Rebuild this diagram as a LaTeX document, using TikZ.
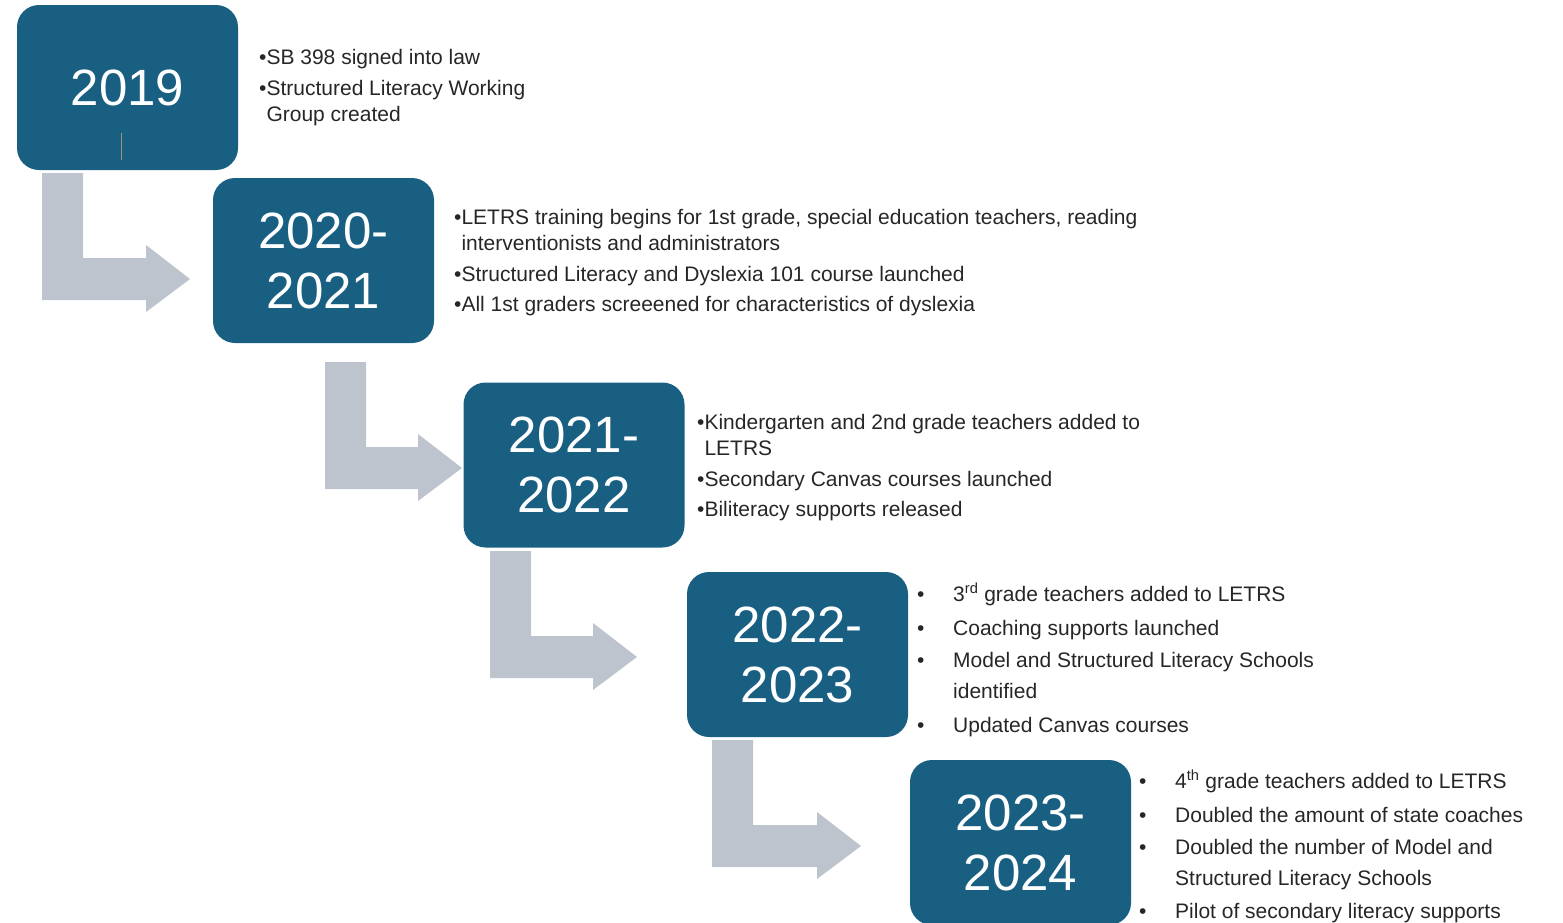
\documentclass[tikz,border=0pt]{standalone}
\usepackage{fontspec}
\setmainfont{Liberation Sans}
\usetikzlibrary{positioning}

\definecolor{boxblue}{HTML}{185F82}
\definecolor{arrowgray}{HTML}{BDC4CD}
\definecolor{tickbrown}{HTML}{A3927F}

\newcommand{\bul}{\makebox[36pt][l]{\textbullet}}
\newcommand{\cont}{\hspace*{36pt}}

\begin{document}
\begin{tikzpicture}[x=1pt,y=-1pt,
  year/.style={rectangle,rounded corners=22pt,fill=boxblue,text=white,
    minimum width=221pt,minimum height=165pt,align=center,inner sep=0pt,
    font=\fontsize{51}{60}\selectfont},
  notes/.style={anchor=base west,align=left,inner sep=0pt,text=black!85,
    font=\fontsize{21}{26}\selectfont},
  widenotes/.style={notes,font=\fontsize{21}{31}\selectfont},
  pics/bentarrow/.style={code={
    \fill[arrowgray] (0,0) -- (41,0) -- (41,85) -- ({#1-44},85) -- ({#1-44},72)
      -- (#1,106) -- ({#1-44},139) -- ({#1-44},127) -- (0,127) -- cycle;}}]
  \useasboundingbox (0,0) rectangle (1563,922);

  % bent arrows
  \pic at (42,173) {bentarrow=148};
  \pic at (325,362) {bentarrow=137};
  \pic at (490,551) {bentarrow=147};
  \pic at (712,740) {bentarrow=149};

  % year boxes
  \node[year] (y19) at (127.5,87.5) {2019};
  \node[year] (y20) at (323.5,260.5) {2020-\\2021};
  \node[year] (y21) at (574,465) {2021-\\2022};
  \node[year] (y22) at (797.5,654.5) {2022-\\2023};
  \node[year] (y23) at (1020.5,842.5) {2023-\\2024};

  \coordinate (t1) at (121,133);
  \coordinate (t2) at (121,160);
  \draw[tickbrown,line width=1pt] (t1) -- (t2);

  % notes (anchored at the baseline of their last line)
  \node[notes] (n19) at (259,121) {\textbullet SB 398 signed into law\\[5pt]
    \textbullet Structured Literacy Working\\
    \hphantom{\textbullet}Group created};
  \node[notes] (n20) at (454,311) {\textbullet LETRS training begins for 1st grade, special education teachers, reading\\
    \hphantom{\textbullet}interventionists and administrators\\[5pt]
    \textbullet Structured Literacy and Dyslexia 101 course launched\\[4pt]
    \textbullet All 1st graders screeened for characteristics of dyslexia};
  \node[notes] (n21) at (697,516) {\textbullet Kindergarten and 2nd grade teachers added to\\
    \hphantom{\textbullet}LETRS\\[5pt]
    \textbullet Secondary Canvas courses launched\\[4pt]
    \textbullet Biliteracy supports released};
  \node[widenotes] (n22) at (917,732) {\bul 3\textsuperscript{rd} grade teachers added to LETRS\\[3pt]
    \bul Coaching supports launched\\[1pt]
    \bul Model and Structured Literacy Schools\\
    \cont identified\\[3pt]
    \bul Updated Canvas courses};
  \node[widenotes] (n23) at (1139,918) {\bul 4\textsuperscript{th} grade teachers added to LETRS\\[3pt]
    \bul Doubled the amount of state coaches\\[1pt]
    \bul Doubled the number of Model and\\
    \cont Structured Literacy Schools\\[2pt]
    \bul Pilot of secondary literacy supports};
\end{tikzpicture}
\end{document}
